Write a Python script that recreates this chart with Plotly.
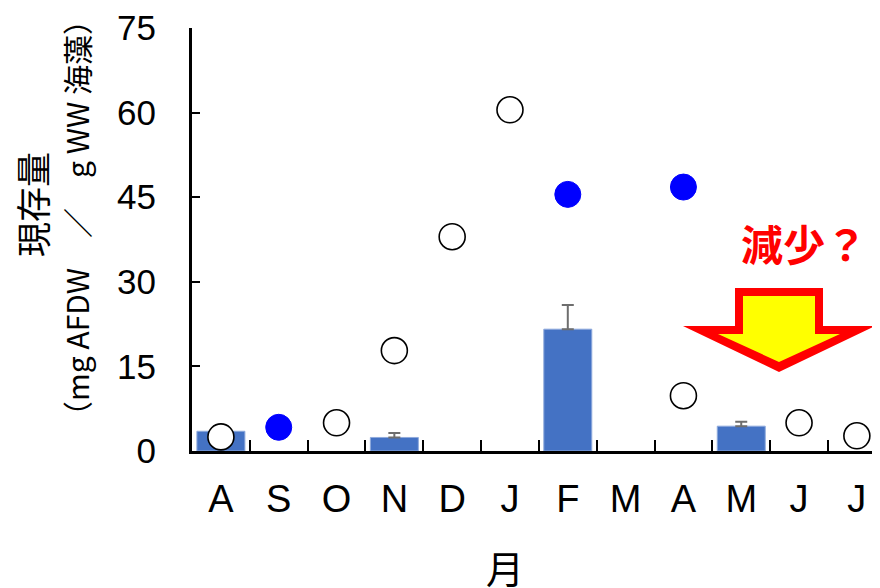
import plotly.graph_objects as go

months = ["A", "S", "O", "N", "D", "J", "F", "M", "A", "M", "J", "J"]
bar_idx = [0, 3, 6, 9]
bar_vals = [3.5, 2.4, 21.6, 4.4]
bar_err = [0.0, 0.8, 4.3, 0.8]
open_idx = [0, 2, 3, 4, 5, 8, 10, 11]
open_vals = [2.5, 5.0, 17.8, 38.0, 60.5, 9.8, 5.0, 2.7]
blue_idx = [1, 6, 8]
blue_vals = [4.2, 45.5, 46.8]
y_ticks = [0, 15, 30, 45, 60, 75]

OFF = 8  # page body margin
W, H = 880 - OFF, 588 - OFF
L, R, T, B = 192, 880, 28, 451  # target screen pixels

def px(x):
    return (x - L) / (R - L)

def py(y):
    return (B - y) / (B - T)

def poly(pts):
    s = "M " + " L ".join(f"{px(a):.5f},{py(b):.5f}" for a, b in pts) + " Z"
    return s

FONT = "Liberation Sans, Arial, Noto Sans CJK JP"
CJK = "Noto Sans CJK JP, sans-serif"

fig = go.Figure()
fig.add_trace(go.Bar(
    x=bar_idx, y=bar_vals, width=0.83,
    marker=dict(color="#4472C4", line=dict(color="#8FAADC", width=1)),
    error_y=dict(type="data", array=bar_err, symmetric=False, arrayminus=[0]*4,
                 color="#6E6E6E", thickness=2, width=6),
    showlegend=False,
))
fig.add_trace(go.Scatter(
    x=open_idx, y=open_vals, mode="markers",
    marker=dict(symbol="circle", size=26, color="white", line=dict(color="black", width=1.6)),
    showlegend=False,
))
fig.add_trace(go.Scatter(
    x=blue_idx, y=blue_vals, mode="markers",
    marker=dict(symbol="circle", size=26, color="#0000FF", line=dict(color="#0000FF", width=1)),
    showlegend=False,
))

fig.update_layout(
    width=W, height=H,
    margin=dict(l=L - OFF, r=0, t=T - OFF, b=H - (B - OFF), autoexpand=False),
    paper_bgcolor="white", plot_bgcolor="white",
    font=dict(family=FONT, color="black"),
    xaxis=dict(
        range=[-0.5, 11.4], tickvals=list(range(12)), ticktext=months,
        ticks="", showgrid=False, zeroline=False, automargin=False,
        showline=True, linecolor="black", linewidth=3,
        tickfont=dict(size=38, family=FONT), ticklabelstandoff=12,
        minor=dict(tickvals=[i + 0.5 for i in range(11)], ticks="inside",
                   ticklen=11, tickwidth=2, tickcolor="black"),
    ),
    yaxis=dict(
        range=[0, 75], tickvals=y_ticks, ticks="inside", ticklen=8, tickwidth=2,
        tickcolor="black", showgrid=False, zeroline=False, automargin=False,
        showline=True, linecolor="black", linewidth=3,
        tickfont=dict(size=35, family=FONT), ticklabelstandoff=26,
    ),
)

fig.add_annotation(text="現存量", xref="paper", yref="paper",
                   x=px(31), y=py(205), textangle=-90, showarrow=False,
                   font=dict(size=35, family=CJK, color="black"),
                   xanchor="center", yanchor="middle")
fig.add_annotation(text="（mg AFDW　／　g WW 海藻）", xref="paper", yref="paper",
                   x=px(76), y=py(218), textangle=-90, showarrow=False,
                   font=dict(size=30, family=CJK, color="black"),
                   xanchor="center", yanchor="middle")
fig.add_annotation(text="月", xref="paper", yref="paper",
                   x=px(505), y=py(566), showarrow=False,
                   font=dict(size=38, family=CJK, color="black"),
                   xanchor="center", yanchor="middle")
fig.add_annotation(text="<b>減少？</b>", xref="paper", yref="paper",
                   x=px(804), y=py(242), showarrow=False,
                   font=dict(size=42, family=CJK, color="#FF0000"),
                   xanchor="center", yanchor="middle")

outer = [(735, 288), (823, 288), (823, 326), (875, 326), (779, 372), (683, 326), (735, 326)]
inner = [(743, 296), (815, 296), (815, 334), (840, 334), (779, 362), (718, 334), (743, 334)]
fig.add_shape(type="path", path=poly(outer), xref="paper", yref="paper",
              fillcolor="#FF0000", line=dict(width=0), layer="above")
fig.add_shape(type="path", path=poly(inner), xref="paper", yref="paper",
              fillcolor="#FFFF00", line=dict(width=0), layer="above")

fig.write_html("out.html")
